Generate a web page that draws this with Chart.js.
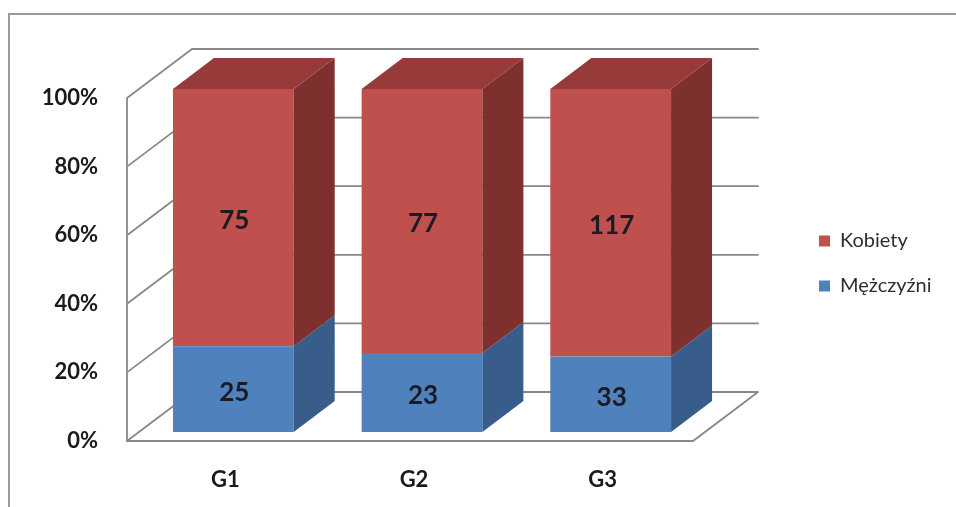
<!DOCTYPE html>
<html><head><meta charset="utf-8">
<script src="https://cdn.jsdelivr.net/npm/chart.js@4"></script>
<style>html,body{margin:0;padding:0;background:#fff;}#wrap{width:956px;height:507px;}</style>
</head><body><div id="wrap"><canvas id="c" width="956" height="507"></canvas></div>
<script>
// ---- data ----
const categories = ['G1', 'G2', 'G3'];
const seriesNames = ['Mężczyźni', 'Kobiety'];
const menCounts = [25, 23, 33];
const womenCounts = [75, 77, 117];
const yTickValues = [0, 20, 40, 60, 80, 100];

const totals = categories.map((_, i) => menCounts[i] + womenCounts[i]);
const menPct = menCounts.map((v, i) => v / totals[i] * 100);
const womenPct = womenCounts.map((v, i) => v / totals[i] * 100);
const countsBySeries = [menCounts, womenCounts];

// ---- style ----
const WALL_DX = 65, WALL_DY = -49;
const BAR_SHIFT_X = 12, BAR_SHIFT_Y = -9;
const BAR_DX = 41, BAR_DY = -31;
const frontColors = ['#4F81BD', '#C0504D'];
const sideColors = ['#385D8A', '#7D302E'];
const topColors = ['#46709F', '#963B39'];

const threeD = {
  id: 'threeD',
  beforeLayout(chart) {
    const lg = chart.legend;
    if (lg && !lg._patched) {
      const f = lg.fit;
      lg.fit = function () { f.call(this); this.width = 263; };
      lg._patched = true;
    }
  },
  afterLayout(chart) {
    const lg = chart.legend;
    if (lg) { lg.left = 794; lg.right = 956; lg.top = 98; lg.bottom = 429; }
  },
  beforeDraw(chart) {
    const ctx = chart.ctx;
    ctx.save();
    ctx.fillStyle = '#fff';
    ctx.fillRect(0, 0, chart.width, chart.height);
    ctx.strokeStyle = '#9a9a9a';
    ctx.lineWidth = 2;
    ctx.beginPath();
    ctx.moveTo(9, chart.height);
    ctx.lineTo(9, 14);
    ctx.lineTo(chart.width, 14);
    ctx.stroke();
    ctx.restore();
  },
  beforeDatasetsDraw(chart) {
    const ctx = chart.ctx;
    const ys = chart.scales.y;
    const {left: L, right: R, top: T, bottom: B} = chart.chartArea;
    ctx.save();
    ctx.strokeStyle = '#888888';
    ctx.lineWidth = 1.8;
    ctx.lineCap = 'round';
    ctx.beginPath();
    yTickValues.forEach(v => {
      const y = ys.getPixelForValue(v);
      ctx.moveTo(L + WALL_DX, y + WALL_DY);
      ctx.lineTo(R + WALL_DX, y + WALL_DY);
      ctx.moveTo(L, y);
      ctx.lineTo(L + WALL_DX, y + WALL_DY);
    });
    ctx.moveTo(L, T);
    ctx.lineTo(L, B);
    ctx.lineTo(R, B);
    ctx.lineTo(R + WALL_DX, B + WALL_DY);
    ctx.stroke();
    ctx.restore();
    ctx.save();
    ctx.translate(BAR_SHIFT_X, BAR_SHIFT_Y);
  },
  afterDatasetsDraw(chart) {
    const ctx = chart.ctx;
    const n = chart.data.datasets.length;
    for (let d = 0; d < n; d++) {
      const meta = chart.getDatasetMeta(d);
      meta.data.forEach(el => {
        const p = el.getProps(['x', 'y', 'base', 'width'], true);
        const l = p.x - p.width / 2, r = p.x + p.width / 2;
        const top = Math.min(p.y, p.base), bot = Math.max(p.y, p.base);
        ctx.fillStyle = sideColors[d];
        ctx.beginPath();
        ctx.moveTo(r, top);
        ctx.lineTo(r + BAR_DX, top + BAR_DY);
        ctx.lineTo(r + BAR_DX, bot + BAR_DY);
        ctx.lineTo(r, bot);
        ctx.closePath();
        ctx.fill();
        if (d === n - 1) {
          ctx.fillStyle = topColors[d];
          ctx.beginPath();
          ctx.moveTo(l, top);
          ctx.lineTo(r, top);
          ctx.lineTo(r + BAR_DX, top + BAR_DY);
          ctx.lineTo(l + BAR_DX, top + BAR_DY);
          ctx.closePath();
          ctx.fill();
        }
      });
    }
    ctx.font = 'bold 26px Lato';
    ctx.fillStyle = '#1b1b22';
    ctx.textAlign = 'center';
    ctx.textBaseline = 'middle';
    for (let d = 0; d < n; d++) {
      const meta = chart.getDatasetMeta(d);
      meta.data.forEach((el, i) => {
        const p = el.getProps(['x', 'y', 'base'], true);
        ctx.fillText(String(countsBySeries[d][i]), p.x + 1, (p.y + p.base) / 2 + 3);
      });
    }
    ctx.restore();
  }
};

new Chart(document.getElementById('c'), {
  type: 'bar',
  data: {
    labels: categories,
    datasets: [
      {label: seriesNames[0], data: menPct, backgroundColor: frontColors[0], borderWidth: 0,
       categoryPercentage: 1, barPercentage: 0.64, clip: false},
      {label: seriesNames[1], data: womenPct, backgroundColor: frontColors[1], borderWidth: 0,
       categoryPercentage: 1, barPercentage: 0.64, clip: false}
    ]
  },
  options: {
    responsive: false,
    animation: false,
    devicePixelRatio: 1,
    layout: {padding: {top: 98, left: 0, right: 0, bottom: 0}},
    plugins: {
      legend: {
        position: 'right', fullSize: false, reverse: true,
        labels: {boxWidth: 11, boxHeight: 11, padding: 25, color: '#2e2e2e',
                 font: {family: 'Lato', size: 20}}
      },
      tooltip: {enabled: false}
    },
    scales: {
      x: {
        stacked: true, offset: true,
        grid: {display: false, drawTicks: false}, border: {display: false},
        ticks: {padding: 26, labelOffset: 4, color: '#1a1a1a',
                font: {family: 'Lato', weight: 'bold', size: 22}},
        afterFit(s) { s.height = 66; }
      },
      y: {
        stacked: true, min: 0, max: 100,
        grid: {display: false, drawTicks: false}, border: {display: false},
        afterBuildTicks(s) { s.ticks = yTickValues.map(v => ({value: v})); },
        ticks: {padding: 29, color: '#1a1a1a', callback: v => v + '%',
                font: {family: 'Lato', weight: 'bold', size: 22}},
        afterFit(s) { s.width = 127; }
      }
    }
  },
  plugins: [threeD]
});
</script>
</body></html>
